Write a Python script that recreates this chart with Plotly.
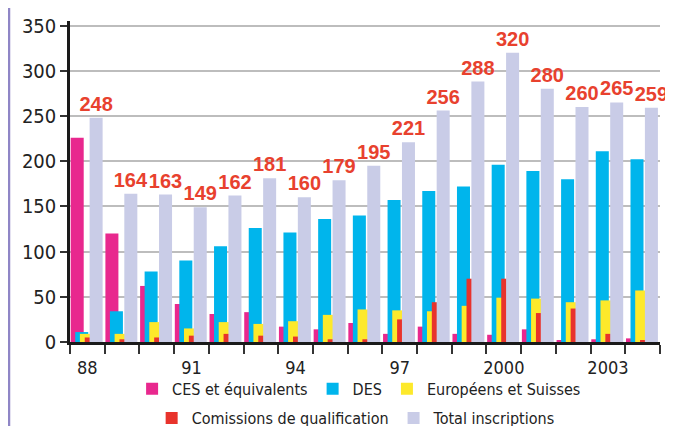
import plotly.graph_objects as go

years = list(range(1988, 2005))
ces = [226, 120, 62, 42, 31, 33, 17, 14, 21, 9, 17, 9, 8, 14, 2, 3, 4]
des = [11, 34, 78, 90, 106, 126, 121, 136, 140, 157, 167, 172, 196, 189, 180, 211, 202]
euro = [9, 9, 22, 15, 22, 20, 23, 30, 36, 35, 34, 40, 49, 48, 44, 46, 57]
comm = [5, 3, 5, 7, 9, 7, 6, 3, 3, 25, 44, 70, 70, 32, 37, 9, 2]
total = [248, 164, 163, 149, 162, 181, 160, 179, 195, 221, 256, 288, 320, 280, 260, 265, 259]
tick_years = [1988, 1991, 1994, 1997, 2000, 2003]
tick_labels = ["88", "91", "94", "97", "2000", "2003"]

FONT = "DejaVu Sans Condensed, DejaVu Sans, sans-serif"
LBL_FONT = "Liberation Sans, Arial, sans-serif"
W = 0.375
series = [
    ("CES et équivalents", ces, "#e8288e", -0.48, "legend"),
    ("DES", des, "#00b5ec", -0.35, "legend"),
    ("Européens et Suisses", euro, "#fde92b", -0.215, "legend"),
    ("Comissions de qualification", comm, "#e8332c", -0.075, "legend2"),
]

fig = go.Figure()
for name, vals, col, off, lg in series:
    fig.add_trace(go.Bar(x=years, y=vals, name=name, marker=dict(color=col, line=dict(width=0)),
                         width=W, offset=off, legend=lg))
fig.add_trace(go.Bar(x=years, y=total, name="Total inscriptions",
                     marker=dict(color="#c9cce7", line=dict(width=0)),
                     width=W, offset=0.065, legend="legend2",
                     text=[str(v) for v in total], textposition="outside",
                     constraintext="none",
                     textfont=dict(family=LBL_FONT, size=20, color="#e8412e", weight="bold"),
                     cliponaxis=False))

# the page body has an 8px margin, so the figure is sized to fit inside the window
fig.update_layout(
    width=665, height=418,
    margin=dict(l=62, r=13, t=13, b=84, autoexpand=False),
    barmode="overlay",
    paper_bgcolor="white", plot_bgcolor="white",
    font=dict(family=FONT, color="#222222"),
    showlegend=True,
    legend=dict(orientation="h", x=0.49, xanchor="center", y=-0.146, yanchor="middle",
                font=dict(size=16, family=FONT, color="#222"), bgcolor="rgba(0,0,0,0)"),
    legend2=dict(orientation="h", x=0.485, xanchor="center", y=-0.237, yanchor="middle",
                 font=dict(size=16, family=FONT, color="#222"), bgcolor="rgba(0,0,0,0)"),
    xaxis=dict(range=[1987.5, 2004.5], tickmode="array", tickvals=tick_years, ticktext=tick_labels,
               ticks="outside", ticklen=7, tickcolor="rgba(0,0,0,0)",
               tickfont=dict(size=18, family=FONT, color="#222"),
               showline=True, linecolor="#1a1a1a", linewidth=3, showgrid=False, zeroline=False,
               minor=dict(tick0=1987.5, dtick=1, ticks="outside", ticklen=9, tickwidth=1.5,
                          tickcolor="#333", showgrid=False)),
    yaxis=dict(range=[0, 355], tickmode="array", tickvals=list(range(0, 351, 50)),
               ticks="outside", ticklen=7, tickwidth=1.5, tickcolor="#333",
               tickfont=dict(size=20, family=FONT, color="#222"),
               showline=True, linecolor="#1a1a1a", linewidth=2.5,
               showgrid=True, gridcolor="#bdbdbd", gridwidth=1.5, zeroline=False),
    shapes=[dict(type="line", xref="paper", yref="paper", x0=-0.1034, x1=-0.1034, y0=-1, y1=2,
                 line=dict(color="#8f86c6", width=2.5))],
)

fig.write_html("out.html")
